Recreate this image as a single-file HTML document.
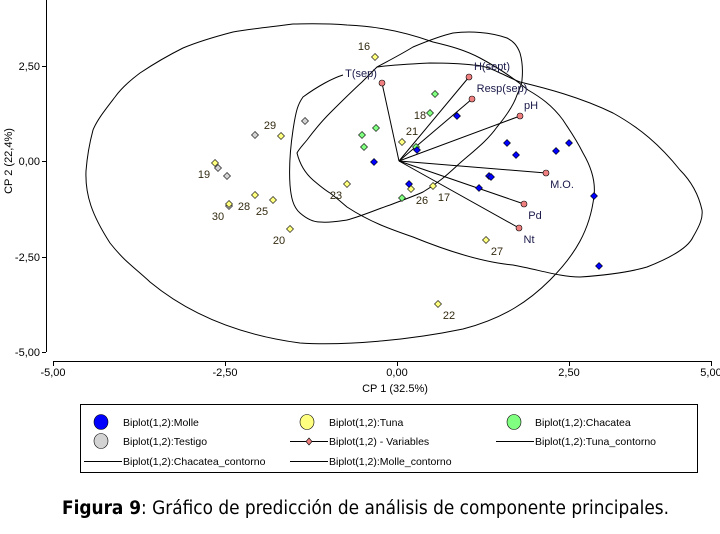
<!DOCTYPE html>
<html><head><meta charset="utf-8"><style>
html,body{margin:0;padding:0;background:#fff;}
svg{display:block;font-family:"Liberation Sans",sans-serif;}
</style></head><body>
<svg width="720" height="534" viewBox="0 0 720 534" xmlns="http://www.w3.org/2000/svg">
<g fill="none" stroke="#000" stroke-width="1">
<!-- axes -->
<line x1="46.5" y1="0" x2="46.5" y2="352"/>
<line x1="42" y1="66.5" x2="46" y2="66.5"/>
<line x1="42" y1="161.5" x2="46" y2="161.5"/>
<line x1="42" y1="257.5" x2="46" y2="257.5"/>
<line x1="42" y1="352.5" x2="46" y2="352.5"/>
<line x1="53" y1="361.5" x2="712" y2="361.5"/>
<line x1="53.5" y1="361" x2="53.5" y2="366"/>
<line x1="225.5" y1="361" x2="225.5" y2="366"/>
<line x1="397.5" y1="361" x2="397.5" y2="366"/>
<line x1="569.5" y1="361" x2="569.5" y2="366"/>
<line x1="711.5" y1="361" x2="711.5" y2="366"/>
<!-- big ellipse -->
<path d="M86,171 C85,195 92,215 110,243 C125,262 135,268 150,282 C190,315 240,335 300,343 C345,346 410,340 463,329 C505,318 530,300 550,280 C575,255 590,230 594,196 C596,180 590,165 583,153 C575,137 568,128 563,120 C552,105 540,97 528,90 C510,75 495,66 480,58 C465,50 450,46 433,42 C405,32 375,26 347,25 C320,23 305,24 293,24 C270,27 250,29 233,32 C210,38 195,43 183,48 C165,57 155,63 140,73 C128,82 120,90 115,97 C105,110 97,120 93,130 C89,145 87,158 86,171 Z"/>
<!-- Molle contour -->
<path d="M297,153 C300,165 305,173 313,180 C320,186 325,190 330,193 C338,199 342,203 347,207 C370,222 390,229 413,237 C445,250 480,262 513,265 C540,270 560,277 580,277 C610,275 630,272 647,267 C670,258 688,248 693,237 C700,225 703,218 702,210 C698,192 690,180 680,170 C660,145 640,128 613,113 C580,97 545,88 520,82 C510,78 505,75 500,73 C490,68 480,65 473,65 C455,63 440,63 430,63 C410,64 390,65 377,67 C372,72 367,77 362,82 C350,93 340,103 330,113 C320,123 313,132 307,140 C303,145 299,149 297,153 Z"/>
<!-- tilted contour -->
<path d="M343,75 C333,78 318,86 303,97 C298,104 296,110 293,130 C290,150 289,170 290,185 C291,197 293,207 300,213 C308,220 314,222 320,222 C330,223 340,221 347,220 C362,216 375,210 390,205 C400,201 412,197 423,192 C440,182 450,172 460,163 C475,150 488,140 497,127 C507,115 514,104 517,95 C521,86 522,82 522,80 C523,70 522,60 520,53 C517,45 513,41 507,38 C490,32 470,31 453,33 C440,36 425,42 413,47 C400,55 388,61 377,67"/>
<!-- vectors -->
<g stroke="#000">
<line x1="399" y1="161" x2="382" y2="83"/>
<line x1="399" y1="161" x2="469" y2="77"/>
<line x1="399" y1="161" x2="472" y2="99"/>
<line x1="399" y1="161" x2="520" y2="116"/>
<line x1="399" y1="161" x2="546" y2="173"/>
<line x1="399" y1="161" x2="524" y2="204"/>
<line x1="399" y1="161" x2="519" y2="228"/>
</g>
</g>
<!-- tick labels -->
<g font-size="11" fill="#000" text-anchor="end">
<text x="40" y="70">2,50</text>
<text x="40" y="165">0,00</text>
<text x="40" y="261">-2,50</text>
<text x="40" y="356">-5,00</text>
</g>
<g font-size="11" fill="#000" text-anchor="middle">
<text x="53" y="376">-5,00</text>
<text x="225" y="376">-2,50</text>
<text x="397" y="376">0,00</text>
<text x="569" y="376">2,50</text>
<text x="711" y="376">5,00</text>
<text x="395" y="392">CP 1 (32.5%)</text>
</g>
<text transform="translate(12,161) rotate(-90)" font-size="11" text-anchor="middle" fill="#000">CP 2 (22,4%)</text>
<!-- points -->
<g stroke="#000" stroke-width="0.6">
<g fill="#d3d3d3">
<path d="M305,117.5l3.5,3.5l-3.5,3.5l-3.5,-3.5z"/>
<path d="M255,131.5l3.5,3.5l-3.5,3.5l-3.5,-3.5z"/>
<path d="M218,164.5l3.5,3.5l-3.5,3.5l-3.5,-3.5z"/>
<path d="M227,172.5l3.5,3.5l-3.5,3.5l-3.5,-3.5z"/>
<path d="M229,202.5l3.5,3.5l-3.5,3.5l-3.5,-3.5z"/>
</g>
<g fill="#ffff80">
<path d="M375,53.5l3.5,3.5l-3.5,3.5l-3.5,-3.5z"/>
<path d="M402,138.5l3.5,3.5l-3.5,3.5l-3.5,-3.5z"/>
<path d="M347,180.5l3.5,3.5l-3.5,3.5l-3.5,-3.5z"/>
<path d="M411,185.5l3.5,3.5l-3.5,3.5l-3.5,-3.5z"/>
<path d="M433,182.5l3.5,3.5l-3.5,3.5l-3.5,-3.5z"/>
<path d="M486,236.5l3.5,3.5l-3.5,3.5l-3.5,-3.5z"/>
<path d="M438,300.5l3.5,3.5l-3.5,3.5l-3.5,-3.5z"/>
<path d="M281,132.5l3.5,3.5l-3.5,3.5l-3.5,-3.5z"/>
<path d="M215,159.5l3.5,3.5l-3.5,3.5l-3.5,-3.5z"/>
<path d="M229,200.5l3.5,3.5l-3.5,3.5l-3.5,-3.5z"/>
<path d="M255,191.5l3.5,3.5l-3.5,3.5l-3.5,-3.5z"/>
<path d="M273,196.5l3.5,3.5l-3.5,3.5l-3.5,-3.5z"/>
<path d="M290,225.5l3.5,3.5l-3.5,3.5l-3.5,-3.5z"/>
</g>
<g fill="#80ff80">
<path d="M435,90.5l3.5,3.5l-3.5,3.5l-3.5,-3.5z"/>
<path d="M430,109.5l3.5,3.5l-3.5,3.5l-3.5,-3.5z"/>
<path d="M376,124.5l3.5,3.5l-3.5,3.5l-3.5,-3.5z"/>
<path d="M362,131.5l3.5,3.5l-3.5,3.5l-3.5,-3.5z"/>
<path d="M364,143.5l3.5,3.5l-3.5,3.5l-3.5,-3.5z"/>
<path d="M416,143.5l3.5,3.5l-3.5,3.5l-3.5,-3.5z"/>
<path d="M402,194.5l3.5,3.5l-3.5,3.5l-3.5,-3.5z"/>
</g>
<g fill="#0000ff">
<path d="M457,112.5l3.5,3.5l-3.5,3.5l-3.5,-3.5z"/>
<path d="M417,146.5l3.5,3.5l-3.5,3.5l-3.5,-3.5z"/>
<path d="M507,139.5l3.5,3.5l-3.5,3.5l-3.5,-3.5z"/>
<path d="M516,151.5l3.5,3.5l-3.5,3.5l-3.5,-3.5z"/>
<path d="M556,147.5l3.5,3.5l-3.5,3.5l-3.5,-3.5z"/>
<path d="M569,139.5l3.5,3.5l-3.5,3.5l-3.5,-3.5z"/>
<path d="M374,158.5l3.5,3.5l-3.5,3.5l-3.5,-3.5z"/>
<path d="M489,172.5l3.5,3.5l-3.5,3.5l-3.5,-3.5z"/>
<path d="M491,173.5l3.5,3.5l-3.5,3.5l-3.5,-3.5z"/>
<path d="M409,180.5l3.5,3.5l-3.5,3.5l-3.5,-3.5z"/>
<path d="M479,184.5l3.5,3.5l-3.5,3.5l-3.5,-3.5z"/>
<path d="M594,192.5l3.5,3.5l-3.5,3.5l-3.5,-3.5z"/>
<path d="M599,262.5l3.5,3.5l-3.5,3.5l-3.5,-3.5z"/>
</g>
<g fill="#f08080">
<circle cx="382" cy="83" r="3"/>
<circle cx="469" cy="77" r="3"/>
<circle cx="472" cy="99" r="3"/>
<circle cx="520" cy="116" r="3"/>
<circle cx="546" cy="173" r="3"/>
<circle cx="524" cy="204" r="3"/>
<circle cx="519" cy="228" r="3"/>
</g>
</g>
<!-- point labels -->
<g font-size="11" fill="#332a10" text-anchor="middle">
<text x="364" y="50">16</text>
<text x="420" y="119">18</text>
<text x="412" y="135">21</text>
<text x="336" y="199">23</text>
<text x="422" y="204">26</text>
<text x="444" y="201">17</text>
<text x="497" y="255">27</text>
<text x="449" y="319">22</text>
<text x="270" y="129">29</text>
<text x="204" y="178">19</text>
<text x="218" y="220">30</text>
<text x="244" y="210">28</text>
<text x="262" y="215">25</text>
<text x="279" y="244">20</text>
</g>
<g font-size="11" fill="#1a1a4a" text-anchor="middle">
<text x="361" y="77">T(sep)</text>
<text x="492" y="70">H(sept)</text>
<text x="502" y="92">Resp(sep)</text>
<text x="531" y="109">pH</text>
<text x="562" y="188">M.O.</text>
<text x="535" y="219">Pd</text>
<text x="529" y="243">Nt</text>
</g>
<!-- legend -->
<rect x="80.5" y="404.5" width="617" height="68" fill="none" stroke="#000"/>
<g stroke="#000" stroke-width="0.6">
<ellipse cx="101" cy="422" rx="7" ry="7.5" fill="#0000ff"/>
<ellipse cx="307" cy="422" rx="7" ry="7.5" fill="#ffff80"/>
<ellipse cx="514" cy="422" rx="7" ry="7.5" fill="#80ff80"/>
<ellipse cx="101" cy="441" rx="7" ry="7.5" fill="#d3d3d3"/>
</g>
<g stroke="#000" stroke-width="1">
<line x1="290" y1="441.5" x2="328" y2="441.5"/>
<line x1="496" y1="441.5" x2="534" y2="441.5"/>
<line x1="84" y1="461.5" x2="122" y2="461.5"/>
<line x1="290" y1="461.5" x2="328" y2="461.5"/>
</g>
<path d="M309,438l3,3.5l-3,3.5l-3,-3.5z" fill="#f08080" stroke="#000" stroke-width="0.6"/>
<g font-size="10.5" fill="#000">
<text x="123" y="426">Biplot(1,2):Molle</text>
<text x="329" y="426">Biplot(1,2):Tuna</text>
<text x="535" y="426">Biplot(1,2):Chacatea</text>
<text x="123" y="445">Biplot(1,2):Testigo</text>
<text x="329" y="445">Biplot(1,2) - Variables</text>
<text x="535" y="445">Biplot(1,2):Tuna_contorno</text>
<text x="123" y="465">Biplot(1,2):Chacatea_contorno</text>
<text x="329" y="465">Biplot(1,2):Molle_contorno</text>
</g>
<!-- caption -->
<text x="62" y="514" font-size="18.5" fill="#000" textLength="607" lengthAdjust="spacingAndGlyphs" font-family="'DejaVu Sans Condensed','DejaVu Sans','Liberation Sans',sans-serif"><tspan font-weight="bold">Figura 9</tspan>: Gráfico de predicción de análisis de componente principales.</text>
</svg>
</body></html>
